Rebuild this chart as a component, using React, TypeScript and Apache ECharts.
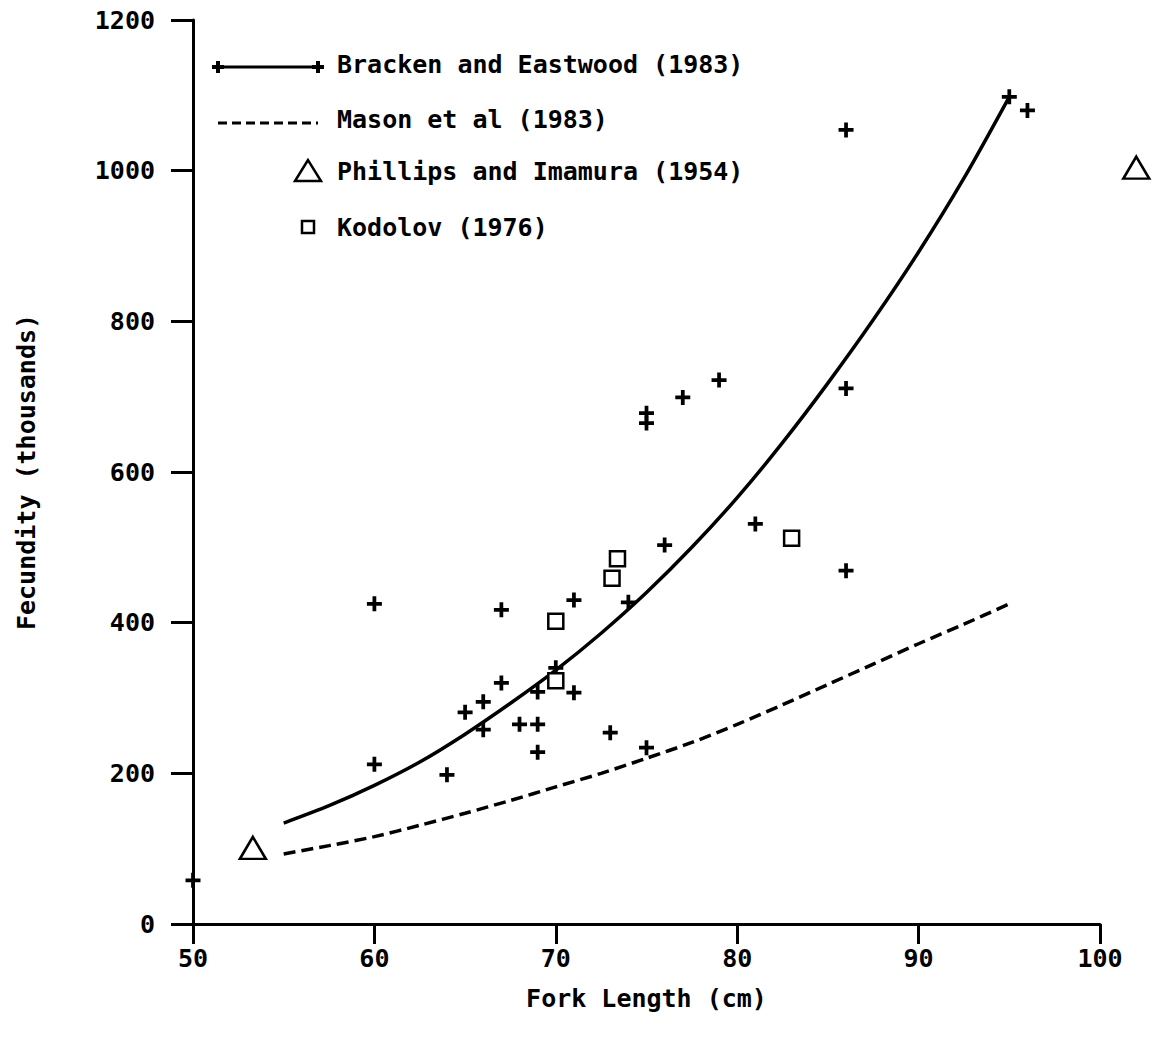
import React, { useEffect, useRef } from "react";
import * as echarts from "echarts";

// Bracken and Eastwood (1983) observations: [fork length cm, fecundity thousands]
const brackenPoints: number[][] = [
  [50, 58], [60, 425], [60, 212], [64, 198], [65, 281], [66, 295], [66, 258],
  [67, 320], [67, 417], [68, 265], [69, 265], [69, 308], [69, 228], [70, 340],
  [71, 430], [71, 307], [73, 254], [74, 427], [75, 234], [75, 678], [75, 665],
  [76, 503], [77, 699], [79, 722], [81, 531], [86, 711], [86, 469], [86, 1054],
  [95, 1098], [96, 1080],
];

// Bracken and Eastwood (1983) fitted curve
const brackenCurve: number[][] = [
  [55, 134], [57.5, 157], [60, 184], [62.5, 215], [65, 252], [67.5, 293],
  [70, 337], [72.5, 386], [75, 440], [77.5, 500], [80, 566], [82.5, 639],
  [85, 718], [87.5, 802], [90, 892], [92.5, 990], [95, 1098],
];

// Mason et al (1983) curve
const masonCurve: number[][] = [
  [55, 93], [57.5, 104], [60, 116], [62.5, 131], [65, 147], [67.5, 164],
  [70, 182], [72.5, 200], [75, 220], [77.5, 241], [80, 265], [82.5, 291],
  [85, 318], [87.5, 345], [90, 372], [92.5, 398], [95, 425],
];

// Phillips and Imamura (1954)
const phillipsPoints: number[][] = [[53.3, 101], [102, 1004]];

// Kodolov (1976)
const kodolovPoints: number[][] = [
  [70, 402], [70, 323], [73.1, 459], [73.4, 485], [83, 512],
];

const legendNames = [
  "Bracken and Eastwood (1983)",
  "Mason et al (1983)",
  "Phillips and Imamura (1954)",
  "Kodolov (1976)",
];

const xTicks = { min: 50, max: 100, interval: 10 };
const yTicks = { min: 0, max: 1200, interval: 200 };

const FONT = "'DejaVu Sans Mono', monospace";
const PLUS =
  "path://M6,0 H10 V6 H16 V10 H10 V16 H6 V10 H0 V6 H6 Z";

export default function App() {
  const ref = useRef<HTMLDivElement>(null);
  useEffect(() => {
    if (!ref.current) return;
    const chart = echarts.init(ref.current, null, { renderer: "svg" });
    const rowY = [64, 119, 171, 227];
    const textX = 337;
    const legendGraphics: any[] = [
      // row 1: solid line with plus at ends
      { type: "line", shape: { x1: 218, y1: rowY[0] + 3, x2: 318, y2: rowY[0] + 3 }, style: { stroke: "#000", lineWidth: 3 } },
      { type: "line", shape: { x1: 212, y1: rowY[0] + 3, x2: 224, y2: rowY[0] + 3 }, style: { stroke: "#000", lineWidth: 4 } },
      { type: "line", shape: { x1: 218, y1: rowY[0] - 3, x2: 218, y2: rowY[0] + 9 }, style: { stroke: "#000", lineWidth: 4 } },
      { type: "line", shape: { x1: 312, y1: rowY[0] + 3, x2: 324, y2: rowY[0] + 3 }, style: { stroke: "#000", lineWidth: 4 } },
      { type: "line", shape: { x1: 318, y1: rowY[0] - 3, x2: 318, y2: rowY[0] + 9 }, style: { stroke: "#000", lineWidth: 4 } },
      // row 2: dashed line
      { type: "line", shape: { x1: 218, y1: rowY[1] + 4, x2: 318, y2: rowY[1] + 4 }, style: { stroke: "#000", lineWidth: 3, lineDash: [9, 5] } },
      // row 3: triangle
      { type: "polygon", shape: { points: [[308, rowY[2] - 11], [295, rowY[2] + 10], [321, rowY[2] + 10]] }, style: { fill: "#fff", stroke: "#000", lineWidth: 2.5 } },
      // row 4: square
      { type: "rect", shape: { x: 302, y: rowY[3] - 6, width: 12, height: 12 }, style: { fill: "#fff", stroke: "#000", lineWidth: 2.5 } },
    ];
    legendNames.forEach((name, i) => {
      legendGraphics.push({
        type: "text",
        x: textX,
        y: rowY[i],
        style: {
          text: name,
          font: `bold 25px ${FONT}`,
          fill: "#000",
          verticalAlign: "middle",
          align: "left",
        },
      });
    });

    const labelStyle = { fontFamily: FONT, fontSize: 25, fontWeight: "bold", color: "#000" };

    chart.setOption({
      animation: false,
      backgroundColor: "#fff",
      grid: { left: 193, right: 54, top: 20, bottom: 116 },
      xAxis: {
        type: "value",
        min: xTicks.min,
        max: xTicks.max,
        interval: xTicks.interval,
        name: "Fork Length (cm)",
        nameLocation: "middle",
        nameGap: 62,
        nameTextStyle: labelStyle,
        axisLine: { show: true, onZero: false, lineStyle: { color: "#000", width: 3 } },
        axisTick: { show: true, inside: false, length: 20, lineStyle: { color: "#000", width: 3 } },
        axisLabel: { margin: 22, ...labelStyle, formatter: (v: number) => String(v) },
        splitLine: { show: false },
      },
      yAxis: {
        type: "value",
        min: yTicks.min,
        max: yTicks.max,
        interval: yTicks.interval,
        name: "Fecundity (thousands)",
        nameLocation: "middle",
        nameGap: 154,
        nameRotate: 90,
        nameTextStyle: labelStyle,
        axisLine: { show: true, onZero: false, lineStyle: { color: "#000", width: 3 } },
        axisTick: { show: true, inside: false, length: 22, lineStyle: { color: "#000", width: 3 } },
        axisLabel: { margin: 38, ...labelStyle, formatter: (v: number) => String(v) },
        splitLine: { show: false },
      },
      series: [
        {
          name: legendNames[0],
          type: "line",
          data: brackenCurve,
          smooth: 0.3,
          showSymbol: false,
          lineStyle: { color: "#000", width: 3.5 },
          z: 2,
        },
        {
          name: legendNames[0] + " data",
          type: "scatter",
          data: brackenPoints,
          symbol: PLUS,
          symbolSize: 15,
          itemStyle: { color: "#000", opacity: 1 },
          clip: false,
          z: 3,
        },
        {
          name: legendNames[1],
          type: "line",
          data: masonCurve,
          smooth: 0.3,
          showSymbol: false,
          lineStyle: { color: "#000", width: 3.5, type: [12, 6] },
          z: 2,
        },
        {
          name: legendNames[2],
          type: "scatter",
          data: phillipsPoints,
          symbol: "triangle",
          symbolSize: [26, 22],
          itemStyle: { color: "#fff", borderColor: "#000", borderWidth: 2.5, opacity: 1 },
          clip: false,
          z: 3,
        },
        {
          name: legendNames[3],
          type: "scatter",
          data: kodolovPoints,
          symbol: "rect",
          symbolSize: 15,
          itemStyle: { color: "#fff", borderColor: "#000", borderWidth: 2.5, opacity: 1 },
          clip: false,
          z: 3,
        },
      ],
      graphic: legendGraphics,
    });
    return () => chart.dispose();
  }, []);
  return (
    <div
      ref={ref}
      style={{ position: "absolute", left: 0, top: 0, width: 1154, height: 1040, background: "#fff" }}
    />
  );
}
